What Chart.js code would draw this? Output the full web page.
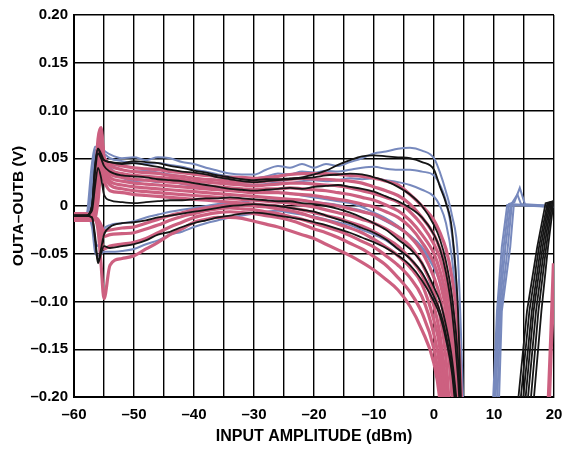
<!DOCTYPE html>
<html>
<head>
<meta charset="utf-8">
<script src="https://cdn.jsdelivr.net/npm/chart.js@4.4.0/dist/chart.umd.min.js"></script>
<style>
	html, body { margin: 0; padding: 0; background: #fff; }
	#wrap { width: 564px; height: 449px; }
</style>
</head>
<body>
<div id="wrap"><canvas id="grafik"></canvas></div>
<script>
const amplitude = [-60, -58, -57, -56.5, -56, -55.5, -55, -54, -52, -50, -48, -46, -44, -42, -40, -38, -36, -34, -32, -30, -28, -26, -24, -22, -20, -18, -16, -14, -12, -10, -8, -6, -4, -2, 0, 1, 2, 3, 4, 5]

// OUTA-OUTB in mV, one row per trace
const blueTraces = [
	[-10, -10, 45, 62, 62, 60, 58, 54, 50, 51, 48, 51, 50, 46, 44, 40, 37, 34, 33, 33, 38, 42, 40, 44, 40, 44, 42, 46, 50, 55, 57, 60, 61, 58, 50, 35, 15, -10, -55, -230],
	[-10, -10, 30, 58, 60, 58, 55, 50, 47, 45, 44, 45, 43, 41, 38, 36, 33, 31, 30, 29, 31, 34, 33, 36, 35, 37, 36, 38, 40, 41, 39, 38, 38, 36, 32, 22, 5, -30, -110, -300],
	[-10, -10, 20, 52, 58, 55, 48, 40, 30, 26, 27, 25, 26, 23, 21, 20, 18, 19, 16, 15, 16, 14, 13, 11, 9, 7, 5, 3, -1, -7, -13, -21, -31, -45, -65, -80, -100, -130, -190, -300],
	[-10, -10, -22, -48, -52, -50, -48, -48, -47, -45, -40, -36, -30, -27, -22, -18, -15, -12, -10, -8, -6, -5, -7, -9, -11, -14, -17, -20, -25, -30, -36, -45, -55, -70, -95, -115, -140, -175, -230, -300],
	[-10, -10, 10, 48, 58, 56, 52, 44, 38, 36, 37, 35, 33, 31, 29, 28, 27, 25, 23, 22, 23, 25, 24, 26, 27, 26, 27, 29, 28, 29, 27, 25, 22, 17, 10, 0, -18, -55, -130, -300],
	[-10, -10, -15, -35, -42, -32, -24, -20, -18, -16, -12, -9, -6, -4, -2, 0, 2, 3, 4, 6, 5, 7, 5, 6, 4, 3, 1, -2, -5, -10, -16, -23, -31, -43, -62, -78, -98, -128, -185, -300],
]
const pinkTraces = [
	[-8, -8, -9, 20, 70, 82, 52, 45, 42, 40, 39, 38, 36, 35, 33, 32, 31, 30, 30, 29, 30, 31, 33, 34, 34, 34, 33, 32, 31, 29, 26, 22, 12, 0, -15, -28, -45, -75, -130, -260],
	[-9, -9, -10, 10, 60, 78, 50, 42, 38, 36, 35, 34, 32, 31, 29, 28, 27, 26, 25, 25, 26, 27, 28, 29, 28, 28, 27, 26, 24, 20, 16, 11, 2, -12, -30, -45, -65, -100, -170, -300],
	[-10, -10, -11, 5, 55, 75, 48, 38, 34, 32, 31, 30, 29, 28, 26, 25, 24, 23, 22, 21, 22, 23, 24, 24, 23, 22, 21, 19, 16, 13, 9, 4, -6, -20, -40, -55, -80, -120, -200, -300],
	[-11, -11, -12, 0, 45, 70, 45, 34, 30, 28, 27, 26, 25, 24, 22, 21, 20, 19, 18, 17, 18, 18, 19, 18, 17, 16, 14, 12, 9, 6, 1, -5, -15, -30, -50, -68, -95, -150, -240, -300],
	[-12, -12, -12, -5, 35, 65, 42, 30, 26, 24, 23, 22, 21, 20, 19, 18, 17, 16, 15, 14, 14, 14, 13, 12, 11, 9, 7, 5, 2, -1, -6, -12, -22, -38, -60, -80, -110, -170, -270, -300],
	[-13, -13, -13, -8, 25, 55, 38, 26, 22, 20, 19, 18, 17, 16, 15, 14, 13, 12, 11, 10, 9, 8, 7, 6, 4, 2, 0, -3, -6, -9, -15, -22, -32, -48, -75, -95, -130, -200, -300, -300],
	[-14, -14, -14, -10, 15, 45, 32, 22, 18, 16, 15, 14, 13, 12, 11, 10, 9, 8, 7, 6, 5, 4, 3, 1, -1, -4, -7, -10, -14, -18, -24, -32, -42, -60, -90, -115, -160, -250, -300, -300],
	[-15, -15, -15, -13, 5, 35, 26, 16, 14, 12, 11, 10, 9, 8, 7, 6, 5, 4, 3, 2, 1, 0, -2, -4, -7, -10, -13, -17, -21, -27, -34, -42, -55, -72, -105, -135, -190, -300, -300, -300],
	[-9, -9, -10, -12, -14, -20, -26, -25, -23, -22, -18, -14, -10, -7, -4, -2, 0, 1, 1, 0, -1, -3, -5, -8, -12, -15, -19, -23, -28, -35, -43, -52, -64, -82, -120, -150, -220, -300, -300, -300],
	[-11, -11, -12, -13, -16, -25, -32, -30, -29, -28, -24, -20, -15, -11, -8, -5, -3, -2, -3, -4, -6, -8, -11, -14, -18, -22, -26, -31, -37, -43, -52, -62, -75, -95, -135, -170, -250, -300, -300, -300],
	[-13, -13, -13, -14, -20, -35, -45, -42, -40, -38, -34, -28, -22, -17, -12, -9, -7, -6, -7, -8, -10, -12, -15, -19, -24, -28, -33, -39, -45, -53, -62, -75, -90, -112, -150, -190, -280, -300, -300, -300],
	[-14, -14, -14, -14, -25, -60, -97, -62, -55, -52, -45, -38, -30, -24, -17, -14, -12, -12, -13, -16, -19, -22, -26, -30, -34, -40, -46, -52, -59, -67, -77, -88, -105, -130, -165, -205, -300, -300, -300, -300],
]
const blackTraces = [
	[-10, -10, 0, 42, 60, 55, 48, 46, 45, 47, 46, 45, 42, 40, 37, 35, 32, 30, 28, 27, 28, 28, 29, 30, 33, 37, 43, 48, 52, 53, 52, 51, 50, 46, 38, 20, 3, -25, -110, -300],
	[-10, -10, 0, 35, 55, 50, 42, 36, 32, 31, 30, 28, 27, 26, 24, 22, 20, 18, 17, 16, 17, 18, 19, 18, 20, 21, 22, 20, 18, 15, 10, 5, -2, -12, -30, -45, -70, -110, -180, -300],
	[-10, -10, -5, 20, 40, 30, 12, 6, 4, 3, 4, 5, 6, 6, 7, 8, 8, 9, 8, 7, 6, 5, 5, 3, 2, 0, -3, -7, -12, -18, -25, -35, -45, -60, -85, -100, -125, -160, -220, -300],
	[-10, -10, -12, -30, -58, -45, -30, -22, -18, -17, -15, -12, -10, -8, -6, -4, -2, 0, 1, 2, 1, 0, -2, -4, -6, -10, -14, -18, -23, -28, -35, -45, -55, -70, -95, -110, -135, -170, -230, -300],
	[-10, -10, -12, -35, -60, -50, -42, -44, -42, -40, -36, -30, -27, -22, -18, -15, -12, -10, -8, -7, -8, -10, -12, -14, -17, -20, -24, -28, -33, -38, -44, -52, -62, -78, -100, -115, -140, -175, -240, -300],
	[-10, -10, 0, 40, 60, 52, 48, 46, 44, 45, 43, 41, 38, 36, 35, 33, 30, 28, 26, 25, 26, 27, 28, 29, 30, 32, 33, 34, 33, 30, 26, 20, 12, 0, -20, -35, -58, -95, -160, -300],
]

// recovery edges on the right side (dBm, mV)
const blueRiseX = [
	[9.8, 10.5, 11.3, 12.2, 20],
	[10.0, 10.7, 11.6, 12.5, 13.4, 14.3, 15.2, 20],
	[10.2, 10.9, 11.9, 12.8, 20],
	[10.5, 11.1, 12.3, 13.0, 13.9, 14.5, 20],
	[10.8, 11.3, 12.7, 13.3, 20],
]
const blueRiseY = [
	[-210, -110, -43, 1, 0],
	[-210, -110, -43, 2, 4, 19, 1, 0],
	[-210, -110, -43, 2, -1],
	[-210, -110, -43, 3, 12, 2, 0],
	[-210, -110, -43, 1, -1],
]
const blackRiseX = [
	[14.0, 15.5, 17.2, 18.6, 20],
	[14.4, 15.9, 17.5, 18.9, 20],
	[14.8, 16.3, 17.8, 19.1, 20],
	[15.2, 16.6, 18.1, 19.3, 20],
	[15.6, 17.0, 18.4, 19.5, 20],
	[16.1, 17.4, 18.7, 19.7, 20],
	[16.6, 17.9, 19.0, 19.9, 20],
]
const blackRiseY = [-205, -110, -43, 3, 5]
const pinkEdgeX = [[19.0, 19.5, 19.9], [19.2, 19.6, 20]]
const pinkEdgeY = [[-210, -130, -60], [-210, -140, -90]]

const pink = '#cd6080'
const blue = '#7789bd'
const black = '#161616'

const toPoints = (xs, mv) => xs.map((x, i) => ({ x: x, y: mv[i] / 1000 }))

const datasets = []
const addTrace = (points, colour, width, order, smooth) => {
	datasets.push({
		data: points,
		borderColor: colour,
		borderWidth: width,
		pointRadius: 0,
		fill: false,
		order: order,
		clip: 0,
		cubicInterpolationMode: smooth ? 'monotone' : 'default',
		tension: 0,
	})
}

blueTraces.forEach((t) => addTrace(toPoints(amplitude, t), blue, 2, 3, true))
blueRiseX.forEach((xs, i) => addTrace(toPoints(xs, blueRiseY[i]), blue, 2, 3, false))
pinkTraces.forEach((t) => addTrace(toPoints(amplitude, t), pink, 3.2, 2, true))
pinkEdgeX.forEach((xs, i) => addTrace(toPoints(xs, pinkEdgeY[i]), pink, 3.2, 2, false))
blackTraces.forEach((t) => addTrace(toPoints(amplitude, t), black, 1.8, 1, true))
blackRiseX.forEach((xs) => addTrace(toPoints(xs, blackRiseY), black, 1.8, 1, false))

const tickFont = { family: "'Liberation Sans', Arial, sans-serif", size: 15, weight: 'bold' }
const minus = (v) => (v < 0 ? '\u2013' : '')

new Chart(document.getElementById('grafik').getContext('2d'), {
	type: 'line',
	data: { datasets: datasets },
	options: {
		responsive: true,
		maintainAspectRatio: false,
		animation: false,
		layout: { padding: { top: 14, right: 10, left: 0, bottom: 0 } },
		plugins: {
			legend: { display: false },
			tooltip: { enabled: false },
		},
		scales: {
			x: {
				type: 'linear',
				min: -60,
				max: 20,
				afterFit: (scale) => {
					scale.height = 52
					scale.paddingLeft = 0
					scale.paddingRight = 0
				},
				grid: { color: '#000', lineWidth: 1.4, drawTicks: false },
				border: { color: '#000', width: 2 },
				ticks: {
					stepSize: 5,
					autoSkip: false,
					maxRotation: 0,
					padding: 9,
					color: '#000',
					font: tickFont,
					callback: (v) => (Math.round(v) % 10 === 0 ? minus(v) + Math.abs(Math.round(v)) : ''),
				},
				title: {
					display: true,
					text: 'INPUT AMPLITUDE (dBm)',
					color: '#000',
					font: { family: tickFont.family, size: 16, weight: 'bold' },
					padding: { top: 0, bottom: 3 },
				},
			},
			y: {
				min: -0.2,
				max: 0.2,
				afterFit: (scale) => { scale.width = 74 },
				grid: { color: '#000', lineWidth: 1.4, drawTicks: false },
				border: { color: '#000', width: 2 },
				ticks: {
					stepSize: 0.05,
					padding: 6,
					color: '#000',
					font: tickFont,
					callback: (v) => (Math.abs(v) < 1e-6 ? '0' : minus(v) + Math.abs(v).toFixed(2)),
				},
				title: {
					display: true,
					text: 'OUTA\u2013OUTB (V)',
					color: '#000',
					font: { family: tickFont.family, size: 15.5, weight: 'bold' },
					padding: { top: 9, bottom: 0 },
				},
			},
		},
	},
})
</script>
</body>
</html>
